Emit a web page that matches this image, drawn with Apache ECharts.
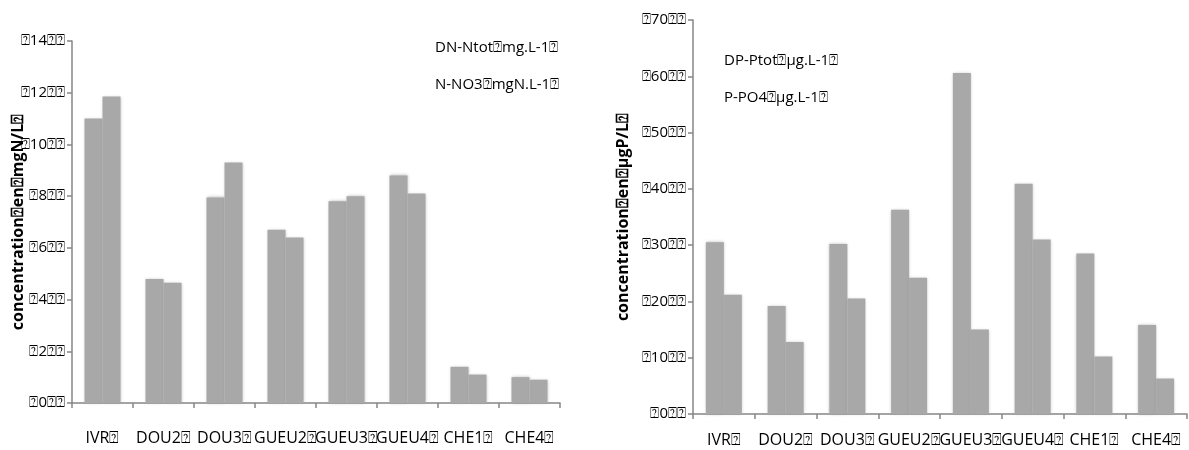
<!DOCTYPE html>
<html><head><meta charset="utf-8">
<script src="https://cdn.jsdelivr.net/npm/echarts@6/dist/echarts.min.js"></script>
<style>html,body{margin:0;padding:0;background:#fff}#c{width:1189px;height:450px}</style>
</head><body><div id="c"></div>
<script>
var T = '\u2370';
var categories = ['IVR' + T, 'DOU2' + T, 'DOU3' + T, 'GUEU2' + T, 'GUEU3' + T, 'GUEU4' + T, 'CHE1' + T, 'CHE4' + T];
var nTot = [11.0, 4.8, 7.95, 6.7, 7.8, 8.8, 1.4, 1.0];
var nNO3 = [11.85, 4.65, 9.3, 6.4, 8.0, 8.1, 1.1, 0.9];
var pTot = [30.5, 19.2, 30.2, 36.3, 60.6, 40.9, 28.5, 15.8];
var pPO4 = [21.2, 12.8, 20.5, 24.2, 15.0, 31.0, 10.2, 6.3];
var names = ['DN-Ntot' + T + 'mg.L-1' + T, 'N-NO3' + T + 'mgN.L-1' + T, 'DP-Ptot' + T + '\u00b5g.L-1' + T, 'P-PO4' + T + '\u00b5g.L-1' + T];
var yNames = ['concentration' + T + 'en' + T + 'mgN/L' + T, 'concentration' + T + 'en' + T + '\u00b5gP/L' + T];

var FONT = 'Open Sans';
var axisLine = {show: true, lineStyle: {color: '#868686', width: 1.5}};
var tick = {show: true, length: 5, lineStyle: {color: '#868686', width: 1.5}};
function yAxis(gi, max, interval, name, gap) {
  return {
    type: 'value', gridIndex: gi, min: 0, max: max, interval: interval,
    name: name, nameLocation: 'middle', nameGap: gap, nameMoveOverlap: false,
    nameTextStyle: {fontFamily: FONT, fontWeight: 'bold', fontSize: 16, color: '#000'},
    axisLine: axisLine, axisTick: tick, splitLine: {show: false},
    axisLabel: {fontFamily: FONT, fontSize: 15, color: '#000', margin: 7,
      formatter: function (v) { return T + v + T + T; }}
  };
}
function xAxis(gi, margin) {
  return {
    type: 'category', gridIndex: gi, data: categories,
    axisLine: axisLine, axisTick: {show: true, length: 5, lineStyle: {color: '#868686', width: 1.5}},
    axisLabel: {fontFamily: FONT, fontSize: 16, color: '#000', margin: margin, interval: 0}
  };
}
function bar(name, data, gi) {
  return {
    type: 'bar', name: name, data: data, xAxisIndex: gi, yAxisIndex: gi,
    barWidth: 18, barGap: '0%',
    itemStyle: {color: '#a8a8a8', shadowBlur: 3, shadowColor: 'rgba(140,140,140,0.6)'}
  };
}
var chart = echarts.init(document.getElementById('c'));
chart.setOption({
  animation: false,
  grid: [
    {left: 72, top: 41, width: 488, height: 362},
    {left: 693, top: 20, width: 494, height: 394}
  ],
  xAxis: [xAxis(0, 27), xAxis(1, 18)],
  yAxis: [yAxis(0, 14, 2, yNames[0], 46), yAxis(1, 70, 10, yNames[1], 62)],
  legend: [
    {data: [names[0], names[1]], orient: 'vertical', left: 425, top: 35, icon: 'none', itemWidth: 0, itemGap: 22,
     textStyle: {fontFamily: FONT, fontSize: 15, color: '#000'}},
    {data: [names[2], names[3]], orient: 'vertical', left: 714, top: 48, icon: 'none', itemWidth: 0, itemGap: 22,
     textStyle: {fontFamily: FONT, fontSize: 15, color: '#000'}}
  ],
  series: [bar(names[0], nTot, 0), bar(names[1], nNO3, 0), bar(names[2], pTot, 1), bar(names[3], pPO4, 1)]
});
</script></body></html>
